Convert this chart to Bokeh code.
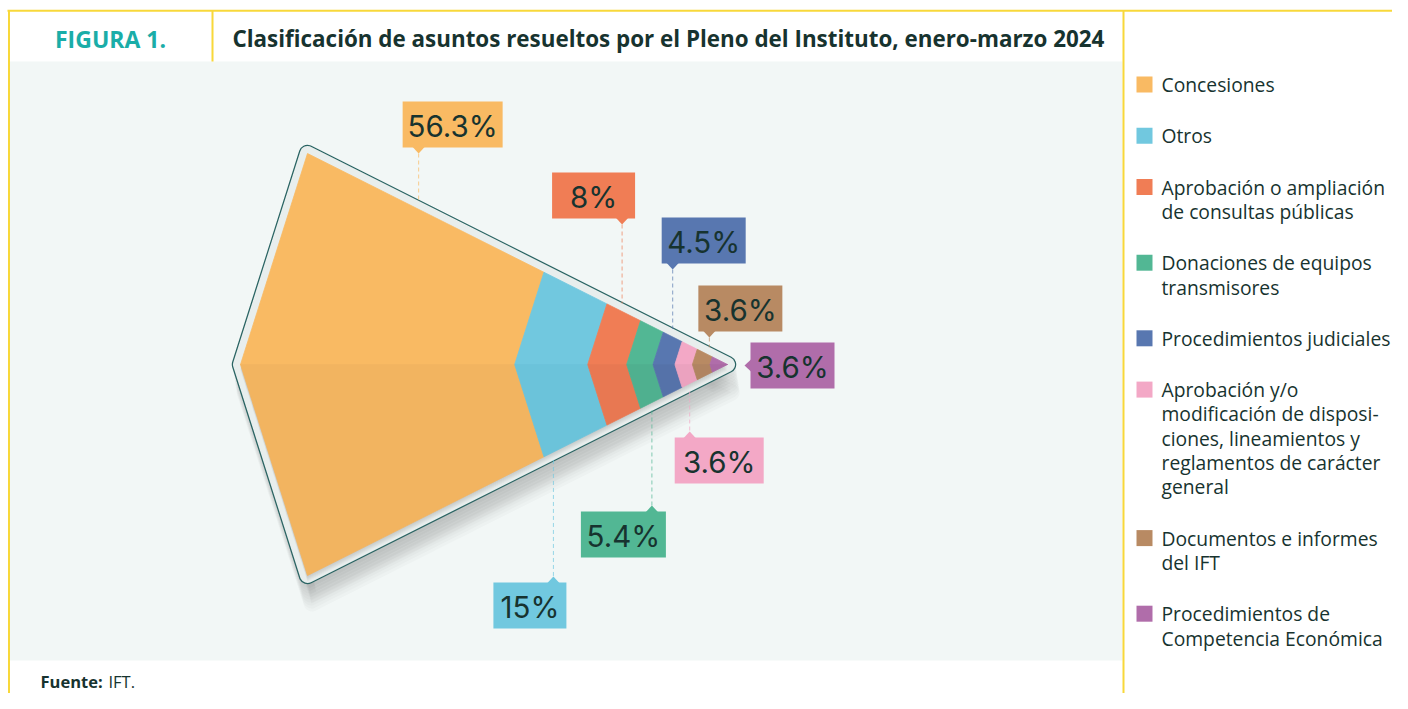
import numpy as np
from bokeh.plotting import figure
from bokeh.models import Range1d
from bokeh.embed import file_html
from bokeh.resources import INLINE
from bokeh.core.properties import value

# ---------------- data ----------------
categories = [
    "Concesiones",
    "Otros",
    "Aprobación o ampliación de consultas públicas",
    "Donaciones de equipos transmisores",
    "Procedimientos judiciales",
    "Aprobación y/o modificación de disposiciones, lineamientos y reglamentos de carácter general",
    "Documentos e informes del IFT",
    "Procedimientos de Competencia Económica",
]
values = [56.3, 15.0, 8.0, 5.4, 4.5, 3.6, 3.6, 3.6]
value_labels = ["56.3%", "15%", "8%", "5.4%", "4.5%", "3.6%", "3.6%", "3.6%"]
legend_lines = [
    ["Concesiones"],
    ["Otros"],
    ["Aprobación o ampliación", "de consultas públicas"],
    ["Donaciones de equipos", "transmisores"],
    ["Procedimientos judiciales"],
    ["Aprobación y/o", "modificación de disposi-", "ciones, lineamientos y",
     "reglamentos de carácter", "general"],
    ["Documentos e informes", "del IFT"],
    ["Procedimientos de", "Competencia Económica"],
]
title_text = "Clasificación de asuntos resueltos por el Pleno del Instituto, enero-marzo 2024"
figure_text = "FIGURA 1."
source_bold = "Fuente:"
source_text = "IFT."

# ---------------- styles ----------------
colors_top = ["#F9BA63", "#71C8DF", "#F07D55", "#52B794", "#5877B0", "#F3A8C6", "#B88A63", "#B06DAA"]
colors_bot = ["#F2B460", "#6BC3DA", "#E87852", "#4FB08F", "#5572A9", "#EBA2BF", "#B08461", "#AA68A4"]
TXT = "#17332F"
YELLOW = "#F8D83A"
BG = "#F2F7F6"
BAND = "#E8EEED"
OUTLINE = "#2A6463"

W, H = 1392, 693
X0, Y0 = 0, 0

p = figure(width=W, height=H, x_range=Range1d(X0, X0 + W), y_range=Range1d(Y0 + H, Y0),
           output_backend="svg", toolbar_location=None, min_border=0)
p.axis.visible = False
p.grid.visible = False
p.outline_line_color = None
p.background_fill_color = "white"
p.border_fill_color = "white"

# panel background and frame
p.quad(left=[9], right=[1122], top=[61], bottom=[660], fill_color=BG, line_color=None)
p.segment(x0=[7, 8.5, 1123, 212], y0=[10.3, 10, 10, 10], x1=[1400, 8.5, 1123, 212], y1=[10.3, 710, 710, 61],
          line_color=YELLOW, line_width=2)

p.text(x=[110], y=[38], text=[figure_text], text_font=value("Open Sans"), text_font_style="bold",
       text_font_size="23px", text_color="#1AADA8", text_align="center", text_baseline="middle")
p.text(x=[232], y=[38], text=[title_text], text_font=value("Open Sans"), text_font_style="bold",
       text_font_size="22.4px", text_color=TXT, text_align="left", text_baseline="middle")

# ---------------- funnel geometry ----------------
LX, CY = 240.0, 364.0      # left vertex
TX, TY = 307.0, 153.0      # top-left corner
AX = 727.0                 # apex x

def top_pt(f):
    return TX + (AX - TX) * f, TY + (CY - TY) * f

def mid_pt(f):
    return LX + (AX - LX) * f, CY

vals = np.array(values, dtype=float)
cum = np.concatenate([[0.0], np.cumsum(vals) / vals.sum()])

shape_x = [TX, AX, TX, LX]
shape_y = [TY, CY, 2 * CY - TY, CY]

# outer soft shadow
for k, dy in enumerate(range(4, 30, 3)):
    p.patch([x + dy * 0.15 for x in shape_x], [y + dy for y in shape_y], fill_color="#5C6968",
            fill_alpha=0.03, line_color="#5C6968", line_alpha=0.03, line_width=16, line_join="round")

# outline + band
p.patch(shape_x, shape_y, fill_color=BAND, line_color=OUTLINE, line_width=17.5, line_join="round")
p.patch(shape_x, shape_y, fill_color=BAND, line_color=BAND, line_width=15, line_join="round")
# inner shadow on band
for dy in range(1, 7):
    p.patch(shape_x, [y + dy for y in shape_y], fill_color="#6F7B7A", fill_alpha=0.05,
            line_color=None)

# segments
up_xs, up_ys, lo_xs, lo_ys = [], [], [], []
for i in range(len(vals)):
    f0, f1 = cum[i], cum[i + 1]
    a, b, c, d = top_pt(f0), top_pt(f1), mid_pt(f1), mid_pt(f0)
    xs = [a[0], b[0], c[0], d[0]]
    ys = [a[1], b[1], c[1], d[1]]
    up_xs.append(xs); up_ys.append(ys)
    lo_xs.append(xs); lo_ys.append([2 * CY - y for y in ys])
p.patches(up_xs, up_ys, fill_color=colors_top, line_color=colors_top, line_width=0.8)
p.patches(lo_xs, lo_ys, fill_color=colors_bot, line_color=colors_bot, line_width=0.8)

# ---------------- value labels ----------------
# layout: side, anchor fraction within segment edge, box top, pointer offset in box, box width
label_layout = [
    ("top", 0.47, 101, 16, 100),
    ("bottom", 0.15, 582, 60, 73),
    ("top", 0.45, 172, 70, 83),
    ("bottom", 0.5, 511, 71, 85),
    ("top", 0.5, 217, 11, 84),
    ("bottom", 0.5, 437, 15, 89),
    ("top", 0.8, 285, 11, 84),
    ("right", 0.0, 342, 0, 84),
]
BH = 46
for i, (side, a, by, po, bw) in enumerate(label_layout):
    col = colors_top[i]
    f = cum[i] + a * (cum[i + 1] - cum[i])
    ex, ey = top_pt(f)
    if side == "top":
        px = ex
        left = px - po
        tri_x, tri_y = [px - 6, px + 6, px], [by + BH - 0.5, by + BH - 0.5, by + BH + 6]
        p.segment(x0=[px], y0=[by + BH + 6], x1=[px], y1=[ey - 8], line_color=col,
                  line_alpha=0.7, line_width=1, line_dash="4 3")
    elif side == "bottom":
        px = ex
        eyb = 2 * CY - ey
        left = px - po
        tri_x, tri_y = [px - 6, px + 6, px], [by + 0.5, by + 0.5, by - 6]
        p.segment(x0=[px], y0=[eyb + 8], x1=[px], y1=[by - 6], line_color=col,
                  line_alpha=0.7, line_width=1, line_dash="4 3")
    else:
        left = AX + 23
        cyb = by + BH / 2
        tri_x, tri_y = [left + 0.5, left + 0.5, left - 6], [cyb - 6, cyb + 6, cyb]
    p.quad(left=[left], right=[left + bw], top=[by], bottom=[by + BH], fill_color=col, line_color=None)
    p.patch(tri_x, tri_y, fill_color=col, line_color=None)
    p.text(x=[left + bw / 2], y=[by + BH / 2 + 1], text=[value_labels[i]], text_font=value("Inter"),
           text_font_size="29.5px", text_color=TXT, text_align="center", text_baseline="middle")

# ---------------- legend ----------------
ly = 84.0
LINE = 24.3
for i, lines in enumerate(legend_lines):
    p.rect(x=[1144], y=[ly], width=16, height=16, fill_color=colors_top[i], line_color=None)
    p.text(x=[1161] * len(lines), y=[ly + k * LINE for k in range(len(lines))], text=lines,
           text_font=value("Open Sans"), text_font_size="19.3px", text_color=TXT,
           text_align="left", text_baseline="middle")
    ly += len(lines) * LINE + 27

# source
p.text(x=[40], y=[681], text=[source_bold], text_font=value("Open Sans"), text_font_style="bold",
       text_font_size="16.5px", text_color=TXT, text_align="left", text_baseline="middle")
p.text(x=[108], y=[681], text=[source_text], text_font=value("Open Sans"),
       text_font_size="16.5px", text_color=TXT, text_align="left", text_baseline="middle")

open("out.html", "w").write(file_html(p, INLINE))
